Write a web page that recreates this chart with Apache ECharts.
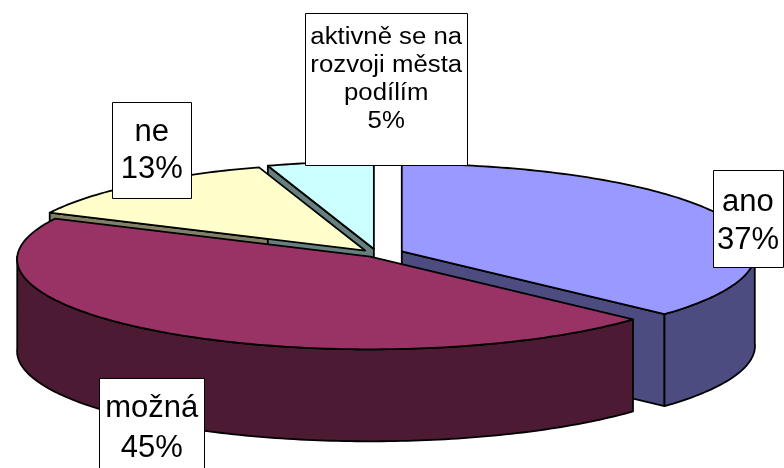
<!DOCTYPE html>
<html>
<head>
<meta charset="utf-8">
<script src="https://cdn.jsdelivr.net/npm/echarts@6/dist/echarts.min.js"></script>
<style>
html,body{margin:0;padding:0;background:#ffffff;}
#chart{width:784px;height:468px;}
</style>
</head>
<body>
<div id="chart"></div>
<script>
// ---- data ----
const categories = ['ano', 'možná', 'ne', 'aktivně se na rozvoji města podílím'];
const values = [37, 45, 13, 5];

// ---- styles / layout ----
const topColors  = ['#9999FF', '#993366', '#FFFFCC', '#CCFFFF'];
const sideColors = ['#4C4C80', '#4D1A33', '#808066', '#668080'];
const explodePx  = [27, 12, 18, 20];             // explode distance of each slice (px)
const labelOffset = [[26, 3], [-15, 95], [15, -35], [66, -74]]; // box centre from mid-angle rim point
const labelBox    = [[70, 97], [105, 100], [79, 96], [162, 152]];
const labelFont   = [31, 31, 31, 23];
const labelLineH  = [38, 40, 37, 28];
const labelScaleX = [1, 1, 1, 1.12];
const labelTextDy = [2.5, 0.5, 1.5, -9];
const labelWrapW  = [200, 200, 200, 140];

const W = 784, H = 468;
const CX = 377, CY = 254;     // pie centre (px)
const RX = 353, RY = 90;      // px per unit on x / y axis
const K = 0.03;               // slight perspective
const DEPTH = 92;             // pie thickness (px)
const FONT = 'Liberation Sans, Arial, sans-serif';

const total = values.reduce((a, b) => a + b, 0);
let acc = 0;
const slices = values.map(v => {
  const a0 = acc / total * 360; acc += v; const a1 = acc / total * 360;
  return { a0, a1, mid: (a0 + a1) / 2 };
});
const rad = d => d * Math.PI / 180;

const measureCtx = document.createElement('canvas').getContext('2d');
function wrap(text, font, maxW) {
  measureCtx.font = font;
  const words = text.split(' ');
  const lines = [];
  let cur = '';
  words.forEach(w => {
    const t = cur ? cur + ' ' + w : w;
    if (cur && measureCtx.measureText(t).width > maxW) { lines.push(cur); cur = w; }
    else cur = t;
  });
  if (cur) lines.push(cur);
  return lines.join('\n');
}

function renderItem(params, api) {
  const i = params.dataIndex;
  const s = slices[i];
  const m = rad(s.mid);
  const cx = explodePx[i] / RX * Math.sin(m);
  const cy = explodePx[i] / RX * Math.cos(m);
  const dz = DEPTH / RY;
  const P = (deg, low) => {
    const t = rad(deg), k = 1 / (1 + K * Math.cos(t));
    return api.coord([cx + Math.sin(t) * k, cy + Math.cos(t) * k - (low ? dz : 0)]);
  };
  const Cn = low => api.coord([cx, cy - (low ? dz : 0)]);
  const arc = (a, b, low) => {
    const n = Math.max(2, Math.ceil(Math.abs(b - a)));
    const pts = [];
    for (let j = 0; j <= n; j++) pts.push(P(a + (b - a) * j / n, low));
    return pts;
  };
  const lineStyle = { stroke: '#000', lineWidth: 1.8, lineJoin: 'round' };
  const children = [];

  // radial cut walls facing the viewer
  const wall = deg => ({
    type: 'polygon', z2: 1,
    shape: { points: [Cn(false), P(deg, false), P(deg, true), Cn(true)] },
    style: Object.assign({ fill: sideColors[i] }, lineStyle)
  });
  if (Math.sin(rad(s.a0)) < -1e-6) children.push(wall(s.a0));
  if (Math.sin(rad(s.a1)) > 1e-6) children.push(wall(s.a1));

  // outer curved wall (front half only)
  const f0 = Math.max(s.a0, 90), f1 = Math.min(s.a1, 270);
  if (f1 > f0) {
    const pts = arc(f0, f1, false).concat(arc(f0, f1, true).reverse());
    children.push({
      type: 'polygon', z2: 2, shape: { points: pts },
      style: Object.assign({ fill: sideColors[i] }, lineStyle)
    });
  }

  // top face
  children.push({
    type: 'polygon', z2: 3,
    shape: { points: [Cn(false)].concat(arc(s.a0, s.a1, false)) },
    style: Object.assign({ fill: topColors[i] }, lineStyle)
  });

  // data label
  const anchor = P(s.mid, false);
  const bx = anchor[0] + labelOffset[i][0], by = anchor[1] + labelOffset[i][1];
  const bw = labelBox[i][0], bh = labelBox[i][1];
  children.push({
    type: 'rect', z2: 4,
    shape: { x: Math.round(bx - bw / 2) + 0.5, y: Math.round(by - bh / 2) + 0.5, width: bw, height: bh },
    style: { fill: '#ffffff', stroke: '#000000', lineWidth: 1 }
  });
  const font = labelFont[i] + 'px ' + FONT;
  const pct = Math.round(api.value(0) / total * 100) + '%';
  children.push({
    type: 'text', z2: 5,
    x: bx, y: by + labelTextDy[i], scaleX: labelScaleX[i],
    style: {
      text: wrap(categories[i], font, labelWrapW[i]) + '\n' + pct,
      x: 0, y: 0,
      fill: '#000000',
      fontFamily: FONT, fontSize: labelFont[i],
      align: 'center', textAlign: 'center',
      verticalAlign: 'middle', textVerticalAlign: 'middle',
      lineHeight: labelLineH[i]
    }
  });

  return { type: 'group', children };
}

const chart = echarts.init(document.getElementById('chart'), null, { renderer: 'canvas' });
chart.setOption({
  animation: false,
  backgroundColor: '#ffffff',
  grid: { left: 0, right: 0, top: 0, bottom: 0 },
  xAxis: { type: 'value', min: -CX / RX, max: (W - CX) / RX, show: false },
  yAxis: { type: 'value', min: -(H - CY) / RY, max: CY / RY, show: false },
  series: [{
    type: 'custom',
    coordinateSystem: 'cartesian2d',
    silent: true,
    clip: false,
    encode: { x: 1, y: 1 },
    data: values.map((v, i) => ({ name: categories[i], value: [v, 0] })),
    renderItem
  }]
});
</script>
</body>
</html>
